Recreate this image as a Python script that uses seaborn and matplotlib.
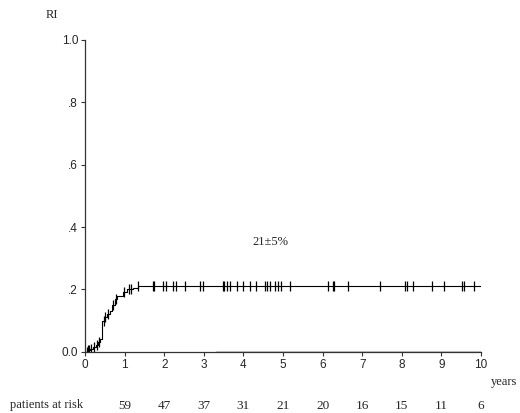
import pandas as pd
import seaborn as sns
import matplotlib.pyplot as plt

sns.set_style("ticks")
plt.rcParams['font.family'] = ['Liberation Sans', 'DejaVu Sans']

# cumulative incidence steps (years, RI)
step_time = [0, 0.05, 0.12, 0.2, 0.28, 0.33, 0.38, 0.44, 0.5, 0.55, 0.62, 0.68,
             0.75, 0.82, 0.95, 1.05, 1.2, 1.35, 10.27]
step_ri = [0, 0.005, 0.01, 0.015, 0.02, 0.03, 0.04, 0.10, 0.11, 0.12, 0.13, 0.15,
           0.17, 0.18, 0.19, 0.20, 0.205, 0.21, 0.21]

# censored observations
cens_time = [0.04, 0.07, 0.1, 0.15, 0.22, 0.3, 0.36, 0.47, 0.5, 0.58, 0.7, 0.78,
             0.98, 1.1, 1.15,
             1.35, 1.72, 1.75, 1.98, 2.04, 2.23, 2.29, 2.52, 2.90, 2.97, 3.48,
             3.52, 3.58, 3.65, 3.83, 3.99, 4.16, 4.33, 4.55, 4.60, 4.67, 4.80,
             4.88, 4.95, 5.18, 6.14, 6.25, 6.30, 6.64, 7.45, 8.08, 8.12, 8.28,
             8.76, 9.07, 9.52, 9.58, 9.82]
cens_ri = [0.0, 0.005, 0.005, 0.01, 0.015, 0.02, 0.03, 0.10, 0.11, 0.12, 0.15, 0.17,
           0.19, 0.20, 0.20] + [0.21] * 38

# second (flat) group near baseline
base_time = [3.3, 10.2]
base_ri = [0.002, 0.002]

years = [0, 1, 2, 3, 4, 5, 6, 7, 8, 9, 10]
at_risk = [59, 47, 37, 31, 21, 20, 16, 15, 11, 6]

steps = pd.DataFrame({'t': step_time, 'ri': step_ri})
cens = pd.DataFrame({'t': cens_time, 'ri': cens_ri})
base = pd.DataFrame({'t': base_time, 'ri': base_ri})

fig = plt.figure(figsize=(5.2, 4.13), dpi=100)
ax = fig.add_axes([0.1635, 0.1484, 0.7615, 0.7548])

sns.lineplot(data=base, x='t', y='ri', ax=ax, color='#c8c8c8', lw=0.8)
sns.lineplot(data=steps, x='t', y='ri', ax=ax, color='black', lw=0.8,
             drawstyle='steps-post')
sns.scatterplot(data=cens, x='t', y='ri', ax=ax, marker='|', s=55,
                color='black', linewidth=0.9)

ax.set_xlim(0, 10)
ax.set_ylim(0, 1.0)
ax.set_xticks(years)
ax.set_yticks([0, 0.2, 0.4, 0.6, 0.8, 1.0])
ax.set_yticklabels(['0.0', '.2', '.4', '.6', '.8', '1.0'])
ax.tick_params(labelsize=8.5, length=3, width=0.8, pad=2, color='#333333')
ax.set_xlabel('')
ax.set_ylabel('')
sns.despine(ax=ax)
for s in ['left', 'bottom']:
    ax.spines[s].set_linewidth(0.9)
    ax.spines[s].set_color('#333333')
ax.spines['left'].set_zorder(0)

serif = ['Liberation Serif', 'DejaVu Serif']
ax.text(4.67, 0.352, '21\u00b15%', ha='center', va='center', fontsize=9, family=serif)
fig.text(52 / 520, 1 - 15 / 413, 'RI', ha='center', va='center', fontsize=9, family=serif)
fig.text(517 / 520, 1 - 382 / 413, 'years', ha='right', va='center', fontsize=9, family=serif)
fig.text(10 / 520, 1 - 405 / 413, 'patients at risk', ha='left', va='center', fontsize=9,
         family=serif)
for yr, n in zip(years[1:], at_risk):
    ax.text(yr, -0.175, str(n), ha='center', va='center', fontsize=9.5, family=serif,
            transform=ax.get_xaxis_transform())

fig.savefig('out.png', dpi=100)
